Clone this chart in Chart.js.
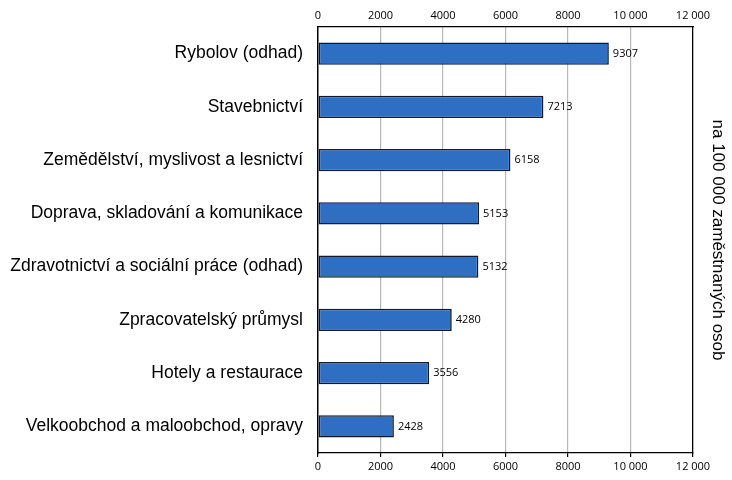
<!DOCTYPE html>
<html>
<head>
<meta charset="utf-8">
<script src="https://cdn.jsdelivr.net/npm/chart.js@4"></script>
<style>
  html, body { margin: 0; padding: 0; background: #fff; }
  #wrap { width: 732px; height: 480px; }
</style>
</head>
<body>
<div id="wrap"><canvas id="chartOdvetvi"></canvas></div>
<script>
// data - odvětví a hodnoty (na 100 000 zaměstnaných osob)
const kategorie = [
  'Rybolov (odhad)',
  'Stavebnictví',
  'Zemědělství, myslivost a lesnictví',
  'Doprava, skladování a komunikace',
  'Zdravotnictví a sociální práce (odhad)',
  'Zpracovatelský průmysl',
  'Hotely a restaurace',
  'Velkoobchod a maloobchod, opravy'
];
const hodnoty = [9307, 7213, 6158, 5153, 5132, 4280, 3556, 2428];
const tickHodnoty = [0, 2000, 4000, 6000, 8000, 10000, 12000];
const judulKanan = 'na 100 000 zaměstnaných osob';

const FONT_SMALL = "'Open Sans', 'DejaVu Sans', sans-serif";
const FONT_BIG = "'Liberation Sans', Arial, sans-serif";

function formatTick(v){
  if(v >= 10000){
    return Math.floor(v / 1000) + ' ' + String(v % 1000).padStart(3, '0');
  }
  return String(v);
}

// label angka di ujung bar
const labelPlugin = {
  id: 'labelBar',
  afterDatasetsDraw(chart){
    const ctx = chart.ctx;
    const meta = chart.getDatasetMeta(0);
    ctx.save();
    ctx.font = '11px ' + FONT_SMALL;
    ctx.fillStyle = '#000';
    ctx.textAlign = 'left';
    ctx.textBaseline = 'middle';
    meta.data.forEach((bar, i) => {
      ctx.fillText(String(hodnoty[i]), bar.x + 4, bar.y);
    });
    ctx.restore();
  }
};

const ctxChart = document.getElementById('chartOdvetvi').getContext('2d');
new Chart(ctxChart, {
  type: 'bar',
  data: {
    labels: kategorie,
    datasets: [{
      data: hodnoty,
      backgroundColor: '#2e6fc4',
      borderColor: '#0f1a2e',
      borderWidth: 1.6,
      borderSkipped: false,
      barPercentage: 0.42,
      categoryPercentage: 1,
      xAxisID: 'x',
      yAxisID: 'y'
    }]
  },
  options: {
    indexAxis: 'y',
    responsive: true,
    maintainAspectRatio: false,
    animation: false,
    layout: { padding: 0 },
    plugins: {
      legend: { display: false },
      tooltip: { enabled: false }
    },
    scales: {
      x: {
        type: 'linear',
        position: 'bottom',
        min: 0,
        max: 12000,
        afterBuildTicks: (scale) => { scale.ticks = tickHodnoty.map(v => ({ value: v })); },
        afterFit: (scale) => { scale.height = 27; },
        ticks: {
          font: { family: FONT_SMALL, size: 11 },
          color: '#000',
          padding: 3,
          maxRotation: 0,
          callback: (v) => formatTick(v)
        },
        grid: {
          color: (c) => (c.tick && (c.tick.value === 0 || c.tick.value === 12000)) ? 'rgba(0,0,0,0)' : '#b8b8b8',
          lineWidth: 1.2,
          tickColor: '#000',
          tickLength: 4
        },
        border: { color: '#000', width: 1.3 }
      },
      x2: {
        type: 'linear',
        position: 'top',
        min: 0,
        max: 12000,
        afterBuildTicks: (scale) => { scale.ticks = tickHodnoty.map(v => ({ value: v })); },
        afterFit: (scale) => { scale.height = 27; },
        ticks: {
          font: { family: FONT_SMALL, size: 11 },
          color: '#000',
          padding: 5,
          maxRotation: 0,
          callback: (v) => formatTick(v)
        },
        grid: { display: false, drawTicks: false },
        border: { color: '#000', width: 1.3 }
      },
      y: {
        type: 'category',
        position: 'left',
        afterFit: (scale) => { scale.width = 318; },
        ticks: {
          font: { family: FONT_BIG, size: 17.5 },
          color: '#000',
          padding: 15
        },
        grid: { display: false, drawTicks: false },
        border: { color: '#000', width: 1.5 }
      },
      y2: {
        type: 'linear',
        position: 'right',
        min: 0,
        max: 1,
        afterFit: (scale) => { scale.width = 39; },
        ticks: { display: false },
        grid: { display: false, drawTicks: false },
        border: { color: '#000', width: 1.3 },
        title: {
          display: true,
          text: judulKanan,
          color: '#000',
          font: { family: FONT_BIG, size: 17 },
          padding: { top: 4, bottom: 0 }
        }
      }
    }
  },
  plugins: [labelPlugin]
});
</script>
</body>
</html>
